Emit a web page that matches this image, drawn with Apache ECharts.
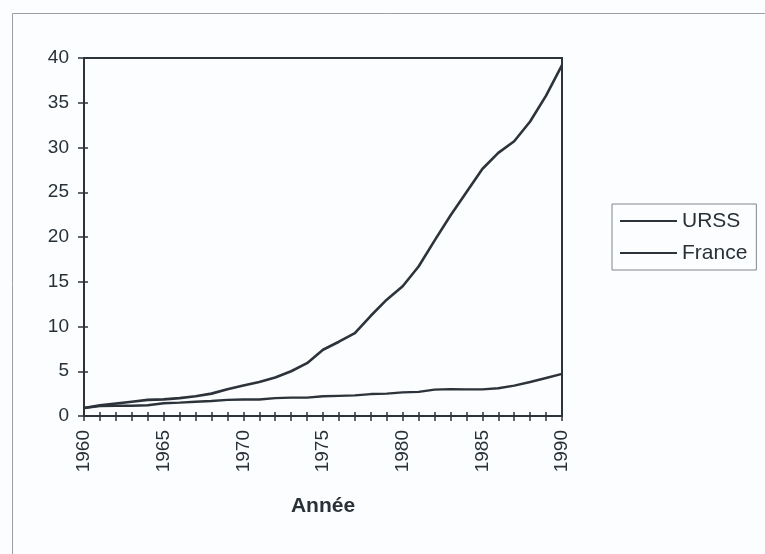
<!DOCTYPE html>
<html>
<head>
<meta charset="utf-8">
<script src="https://cdn.jsdelivr.net/npm/echarts@6/dist/echarts.min.js"></script>
<style>
html,body{margin:0;padding:0;background:#fbfdfe;}
#c{width:765px;height:554px;}
</style>
</head>
<body>
<div id="c"></div>
<script>
var years = [];
for (var y = 1960; y <= 1990; y++) years.push(String(y));
var urss = [0.9,1.2,1.4,1.6,1.8,1.86,2.0,2.2,2.5,3.0,3.4,3.8,4.3,5.0,5.9,7.4,8.3,9.25,11.2,13.0,14.5,16.7,19.6,22.4,25.0,27.6,29.4,30.7,32.9,35.8,39.2];
var france = [0.9,1.1,1.15,1.15,1.2,1.42,1.5,1.6,1.68,1.8,1.85,1.85,2.0,2.05,2.05,2.2,2.25,2.3,2.45,2.5,2.64,2.7,2.95,3.0,2.98,2.98,3.1,3.4,3.8,4.25,4.7];
var yTicks = [0,5,10,15,20,25,30,35,40];

var txt = '#283038';
var lineC = '#2c333a';
var font = 'Liberation Sans, Arial, sans-serif';
var chart = echarts.init(document.getElementById('c'));
var tickLabels = {};
years.forEach(function(v,i){ if (i % 5 === 0) tickLabels[v] = true; });
chart.setOption({
  backgroundColor: '#fbfdfe',
  animation: false,
  graphic: [{
    type: 'rect', left: 10, top: 11,
    shape: {width: 800, height: 600},
    style: {fill: 'none', stroke: '#9aa0a6', lineWidth: 1}
  }],
  grid: {left: 84, right: 203, top: 58, bottom: 138, show: true, borderColor: lineC, borderWidth: 2, backgroundColor: 'transparent'},
  legend: {
    orient: 'vertical', left: 612, top: 204,
    padding: [6, 9, 6, 8], itemGap: 10,
    borderColor: '#80868c', borderWidth: 1,
    icon: 'rect', itemWidth: 57, itemHeight: 2,
    textStyle: {fontFamily: font, fontSize: 21, lineHeight: 22, color: txt},
    data: ['URSS', 'France']
  },
  xAxis: [{
    type: 'category', data: years, boundaryGap: false,
    name: 'Année', nameLocation: 'middle', nameGap: 80,
    nameTextStyle: {fontFamily: font, fontSize: 21, fontWeight: 'bold', color: txt},
    axisLine: {lineStyle: {color: lineC, width: 2}},
    axisTick: {show: true, interval: 0, length: 5, lineStyle: {color: lineC, width: 1.5}},
    axisLabel: {
      interval: 0, rotate: 90, margin: 14,
      fontFamily: font, fontSize: 19, color: txt,
      formatter: function(v){ return tickLabels[v] ? v : ''; }
    },
    splitLine: {show: false}
  }, {
    type: 'category', data: years, boundaryGap: false, position: 'bottom', offset: 0,
    axisLine: {show: false},
    axisTick: {show: true, inside: true, interval: 0, length: 4, lineStyle: {color: lineC, width: 1.5}},
    axisLabel: {show: false}, splitLine: {show: false}
  }],
  yAxis: [{
    type: 'value', min: yTicks[0], max: yTicks[yTicks.length-1], interval: 5,
    axisLine: {show: true, lineStyle: {color: lineC, width: 2}},
    axisTick: {show: true, length: 6, lineStyle: {color: lineC, width: 1.5}},
    axisLabel: {margin: 15, fontFamily: font, fontSize: 19, color: txt},
    splitLine: {show: false}
  }, {
    type: 'value', min: yTicks[0], max: yTicks[yTicks.length-1], interval: 5, position: 'left', offset: 0,
    axisLine: {show: false},
    axisTick: {show: true, inside: true, length: 4, lineStyle: {color: lineC, width: 1.5}},
    axisLabel: {show: false}, splitLine: {show: false}
  }],
  series: [{
    name: 'URSS', type: 'line', data: urss, symbol: 'none',
    lineStyle: {color: lineC, width: 2.6}, itemStyle: {color: lineC}
  }, {
    name: 'France', type: 'line', data: france, symbol: 'none',
    lineStyle: {color: lineC, width: 2.4}, itemStyle: {color: lineC}
  }]
});
</script>
</body>
</html>
